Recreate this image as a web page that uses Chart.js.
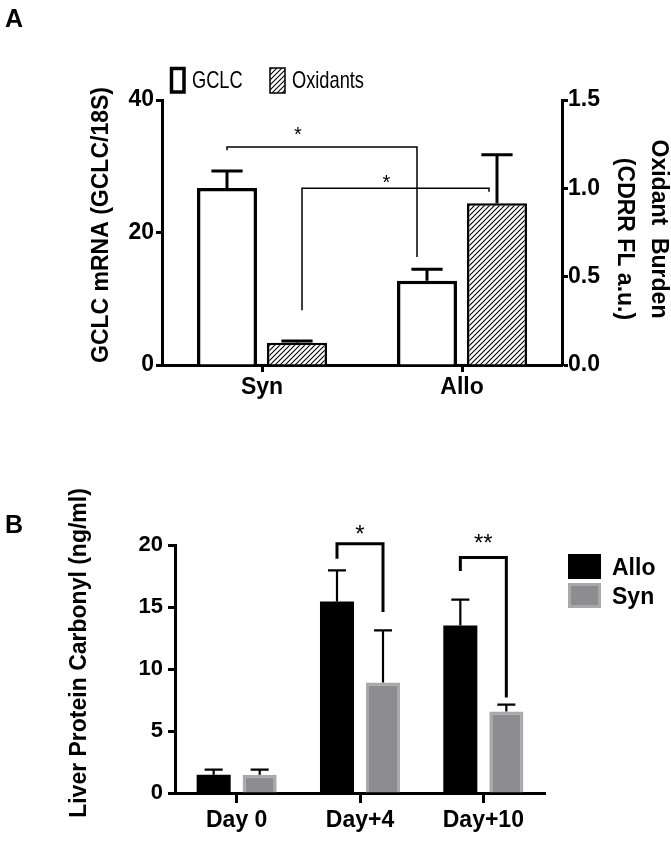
<!DOCTYPE html>
<html>
<head>
<meta charset="utf-8">
<script src="https://cdn.jsdelivr.net/npm/chart.js@4.4.0/dist/chart.umd.min.js"></script>
<style>
  body { margin: 0; background: #fff; }
  #wrap { position: relative; width: 671px; height: 847px; overflow: hidden;
          font-family: "Liberation Sans", Arial, Helvetica, sans-serif; }
  .panel { position: absolute; left: 5px; font-weight: bold; font-size: 25px; line-height: 1; }
  canvas { position: absolute; left: 0; }
</style>
</head>
<body>
<div id="wrap">
  <canvas id="chartA" width="671" height="420" style="top:0"></canvas>
  <canvas id="chartB" width="671" height="407" style="top:440px"></canvas>
  <div class="panel" style="top:6px">A</div>
  <div class="panel" style="top:512px">B</div>
</div>
<script>
// panel A data
const catA = ["Syn", "Allo"];
const gclcVals = [26.7, 12.7];
const gclcErr = [2.6, 1.75];
const oxVals = [0.126, 0.915];
const oxErr = [0.01, 0.275];

// panel B data
const catB = ["Day 0", "Day+4", "Day+10"];
const alloVals = [1.48, 15.45, 13.5];
const alloErr = [0.4, 2.5, 2.1];
const synVals = [1.48, 8.92, 6.58];
const synErr = [0.4, 4.2, 0.55];

const FONT = '"Liberation Sans", Arial, Helvetica, sans-serif';
Chart.defaults.font.family = FONT;
Chart.defaults.color = "#000";

// significance brackets (y in axis units)
const bracketsA = [
    { axis: "y", from: [0, 0], to: [0, 1], toDx: -10, top: 32.9, fromEnd: 32.4, toEnd: 16.3, label: "*", labelDx: -24, labelAt: 35.3 },
    { axis: "y1", from: [1, 0], to: [1, 1], fromDx: 5, toDx: -8, top: 1.0, fromEnd: 0.31, toEnd: 0.98, label: "*", labelDx: -9, labelAt: 1.053 }
];
const bracketsB = [
    { axis: "y", from: [0, 1], to: [1, 1], top: 20.1, fromEnd: 18.9, toEnd: 14.6, label: "*", labelDx: 0, labelAt: 21.2 },
    { axis: "y", from: [0, 2], to: [1, 2], top: 19.0, fromEnd: 17.9, toEnd: 7.7, label: "**", labelDx: 0, labelAt: 20.5 }
];

function errorBars(capFrac, lw) {
    return {
        id: "errorBars",
        afterDatasetsDraw(chart) {
            const ctx = chart.ctx;
            chart.data.datasets.forEach((ds, di) => {
                const meta = chart.getDatasetMeta(di);
                const sc = chart.scales[meta.yAxisID];
                meta.data.forEach((bar, i) => {
                    const yTop = sc.getPixelForValue(ds.data[i] + ds.errors[i]);
                    const half = bar.width * capFrac / 2;
                    ctx.save();
                    ctx.strokeStyle = "#000";
                    ctx.lineWidth = lw;
                    ctx.beginPath();
                    ctx.moveTo(bar.x, bar.y);
                    ctx.lineTo(bar.x, yTop);
                    ctx.moveTo(bar.x - half, yTop);
                    ctx.lineTo(bar.x + half, yTop);
                    ctx.stroke();
                    ctx.restore();
                });
            });
        }
    };
}

function brackets(list, lw, size) {
    return {
        id: "brackets",
        afterDatasetsDraw(chart) {
            const ctx = chart.ctx;
            list.forEach((b) => {
                const sc = chart.scales[b.axis];
                const xa = chart.getDatasetMeta(b.from[0]).data[b.from[1]].x + (b.fromDx || 0);
                const xb = chart.getDatasetMeta(b.to[0]).data[b.to[1]].x + (b.toDx || 0);
                const yt = sc.getPixelForValue(b.top);
                ctx.save();
                ctx.strokeStyle = "#000";
                ctx.lineWidth = lw;
                ctx.beginPath();
                ctx.moveTo(xa, sc.getPixelForValue(b.fromEnd));
                ctx.lineTo(xa, yt);
                ctx.lineTo(xb, yt);
                ctx.lineTo(xb, sc.getPixelForValue(b.toEnd));
                ctx.stroke();
                ctx.fillStyle = "#000";
                ctx.font = size + "px " + FONT;
                ctx.textAlign = "center";
                ctx.textBaseline = "middle";
                ctx.fillText(b.label, (xa + xb) / 2 + b.labelDx, sc.getPixelForValue(b.labelAt) + size * 0.22);
                ctx.restore();
            });
        }
    };
}

function rotText(ctx, txt, x, y, angle, font) {
    ctx.save();
    ctx.translate(x, y);
    ctx.rotate(angle);
    ctx.font = font;
    ctx.fillStyle = "#000";
    ctx.textAlign = "center";
    ctx.textBaseline = "middle";
    ctx.fillText(txt, 0, 0);
    ctx.restore();
}

function axisStyle(tl, pad, size) {
    return {
        grid: { drawOnChartArea: false, drawTicks: true, tickLength: tl, tickWidth: 3, color: "#000" },
        border: { color: "#000", width: 3 },
        ticks: { color: "#000", padding: pad, font: { size: size, weight: "bold" } }
    };
}

// hatch pattern for Oxidants
const ctxA = document.getElementById("chartA").getContext("2d");
const tile = document.createElement("canvas");
tile.width = 5; tile.height = 5;
const tg = tile.getContext("2d");
tg.fillStyle = "#fff";
tg.fillRect(0, 0, 5, 5);
tg.strokeStyle = "#000";
tg.lineWidth = 1.1;
tg.beginPath();
tg.moveTo(0, 5); tg.lineTo(5, 0);
tg.moveTo(-1, 1); tg.lineTo(1, -1);
tg.moveTo(4, 6); tg.lineTo(6, 4);
tg.stroke();
const hatch = ctxA.createPattern(tile, "repeat");

const decorA = {
    id: "decorA",
    afterDraw(chart) {
        const ctx = chart.ctx;
        rotText(ctx, "GCLC mRNA (GCLC/18S)", 102, 225, -Math.PI / 2, "bold 23px " + FONT);
        rotText(ctx, "Oxidant  Burden", 658, 229, Math.PI / 2, "bold 23px " + FONT);
        rotText(ctx, "(CDRR FL a.u.)", 624, 239, Math.PI / 2, "bold 23px " + FONT);
        // legend
        ctx.save();
        ctx.fillStyle = "#fff";
        ctx.fillRect(171, 68, 13, 24);
        ctx.strokeStyle = "#000";
        ctx.lineWidth = 3.5;
        ctx.strokeRect(171.5, 68.5, 12.5, 23.5);
        ctx.fillStyle = hatch;
        ctx.fillRect(270, 68, 15, 25);
        ctx.lineWidth = 1.5;
        ctx.strokeRect(270, 68, 15, 25);
        ctx.fillStyle = "#000";
        ctx.font = "24px " + FONT;
        ctx.textBaseline = "middle";
        ctx.textAlign = "left";
        [["GCLC", 192], ["Oxidants", 292]].forEach(([t, x]) => {
            ctx.save();
            ctx.translate(x, 81);
            ctx.scale(0.76, 1);
            ctx.fillText(t, 0, 0);
            ctx.restore();
        });
        ctx.restore();
    }
};

const xA = axisStyle(7, 2, 23);
xA.grid.offset = false;
const yA = axisStyle(6, 2, 23);
const y1A = axisStyle(6, 0, 23);

new Chart(ctxA, {
    type: "bar",
    data: {
        labels: catA,
        datasets: [
            { label: "GCLC", data: gclcVals, errors: gclcErr, yAxisID: "y",
              backgroundColor: "#fff", borderColor: "#000", borderWidth: 3.5,
              categoryPercentage: 0.7, barPercentage: 0.857 },
            { label: "Oxidants", data: oxVals, errors: oxErr, yAxisID: "y1",
              backgroundColor: hatch, borderColor: "#000", borderWidth: 2.5,
              categoryPercentage: 0.7, barPercentage: 0.857 }
        ]
    },
    options: {
        responsive: false,
        animation: false,
        devicePixelRatio: 1,
        layout: { padding: { top: 100, bottom: 15, left: 0, right: 0 } },
        plugins: { legend: { display: false }, tooltip: { enabled: false } },
        scales: {
            x: { ...xA, offset: true, afterFit: (s) => { s.height = 40; } },
            y: { ...yA, position: "left", min: 0, max: 40,
                 ticks: { ...yA.ticks, stepSize: 20 },
                 afterFit: (s) => { s.width = 162; } },
            y1: { ...y1A, position: "right", min: 0, max: 1.5,
                  ticks: { ...y1A.ticks, stepSize: 0.5, callback: (v) => v.toFixed(1) },
                  afterFit: (s) => { s.width = 109; } }
        }
    },
    plugins: [errorBars(0.52, 3), brackets(bracketsA, 1.5, 20), decorA]
});

// panel B
const decorB = {
    id: "decorB",
    afterDraw(chart) {
        const ctx = chart.ctx;
        rotText(ctx, "Liver Protein Carbonyl (ng/ml)", 80, 213, -Math.PI / 2, "bold 23px " + FONT);
        ctx.save();
        ctx.fillStyle = "#000";
        ctx.fillRect(568, 114, 33, 25);
        ctx.fillStyle = "#8d8d91";
        ctx.fillRect(568, 143, 33, 25);
        ctx.strokeStyle = "#a9a9a9";
        ctx.lineWidth = 3;
        ctx.strokeRect(569.5, 144.5, 30, 22);
        ctx.fillStyle = "#000";
        ctx.font = "bold 23px " + FONT;
        ctx.textBaseline = "middle";
        ctx.textAlign = "left";
        ctx.fillText("Allo", 612, 129);
        ctx.fillText("Syn", 612, 158);
        ctx.restore();
    }
};

const xB = axisStyle(10, 4, 23);
xB.grid.offset = false;
const yB = axisStyle(7, 5, 22);

new Chart(document.getElementById("chartB").getContext("2d"), {
    type: "bar",
    data: {
        labels: catB,
        datasets: [
            { label: "Allo", data: alloVals, errors: alloErr,
              backgroundColor: "#000", borderColor: "#000", borderWidth: 0,
              categoryPercentage: 0.746, barPercentage: 0.74 },
            { label: "Syn", data: synVals, errors: synErr,
              backgroundColor: "#8d8d91", borderColor: "#a9a9a9", borderWidth: 3,
              categoryPercentage: 0.746, barPercentage: 0.74 }
        ]
    },
    options: {
        responsive: false,
        animation: false,
        devicePixelRatio: 1,
        layout: { padding: { top: 105, bottom: 9, left: 0, right: 126 } },
        plugins: { legend: { display: false }, tooltip: { enabled: false } },
        scales: {
            x: { ...xB, offset: true, afterFit: (s) => { s.height = 45; } },
            y: { ...yB, position: "left", min: 0, max: 20,
                 ticks: { ...yB.ticks, stepSize: 5 },
                 afterFit: (s) => { s.width = 175; } }
        }
    },
    plugins: [errorBars(0.53, 2.2), brackets(bracketsB, 3, 24), decorB]
});
</script>
</body>
</html>
